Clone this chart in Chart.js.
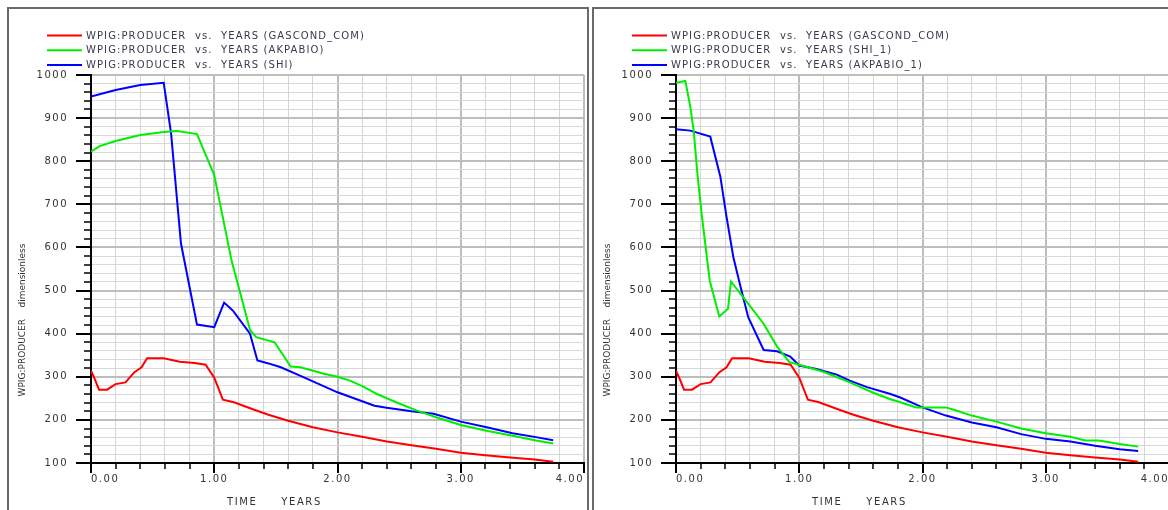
<!DOCTYPE html>
<html>
<head>
<meta charset="utf-8">
<script src="https://cdn.jsdelivr.net/npm/chart.js@4.4.0/dist/chart.umd.min.js"></script>
<style>
html, body { margin: 0; padding: 0; background: #fff; overflow: hidden; width: 1168px; height: 510px; }
.panel { position: absolute; top: 7px; height: 520px; border: 2px solid #6a6a6a; overflow: hidden; background: #fff; }
#panel-left { left: 7px; width: 578px; }
#panel-right { left: 592px; width: 600px; }
canvas { position: absolute; left: 0; top: 0; }
</style>
</head>
<body>
<div class="panel" id="panel-left"><canvas id="chartLeft" width="578" height="501"></canvas></div>
<div class="panel" id="panel-right"><canvas id="chartRight" width="578" height="501"></canvas></div>
<script>

// GASCOND_COM (same run in both plots)
var gascondTime   = [0, 0.03, 0.065, 0.13, 0.2, 0.28, 0.35, 0.41, 0.455, 0.59, 0.72, 0.84, 0.93, 1.0, 1.07, 1.16, 1.33, 1.44, 1.6, 1.8, 2.0, 2.2, 2.4, 2.6, 2.8, 3.0, 3.2, 3.4, 3.6, 3.75];
var gascondValues = [314, 295, 270, 270, 283, 287, 310, 322, 343, 343, 335, 332, 328, 298, 247, 241, 223, 212, 198, 183, 171, 161, 150, 141, 133, 124, 118, 113, 108, 103];

// left plot
var akpabioTime   = [0, 0.07, 0.2, 0.4, 0.59, 0.7, 0.86, 1.0, 1.14, 1.29, 1.34, 1.49, 1.62, 1.7, 1.89, 2.0, 2.1, 2.21, 2.32, 2.5, 2.64, 2.8, 3.0, 3.21, 3.42, 3.61, 3.75];
var akpabioValues = [822, 835, 847, 861, 868, 870, 863, 768, 570, 409, 392, 380, 324, 322, 307, 300, 291, 277, 260, 238, 222, 206, 188, 175, 163, 152, 145];

var shiTime   = [0, 0.2, 0.4, 0.59, 0.65, 0.73, 0.86, 1.0, 1.08, 1.15, 1.29, 1.35, 1.44, 1.54, 1.7, 2.0, 2.3, 2.4, 2.6, 2.78, 3.0, 3.21, 3.42, 3.61, 3.75];
var shiValues = [950, 965, 977, 982, 864, 609, 421, 415, 472, 454, 400, 338, 331, 322, 302, 264, 233, 228, 220, 214, 196, 183, 169, 160, 153];

// right plot
var shi1Time   = [0, 0.076, 0.116, 0.143, 0.176, 0.211, 0.273, 0.351, 0.422, 0.446, 0.549, 0.711, 0.82, 0.92, 1.0, 1.2, 1.41, 1.6, 1.74, 1.82, 1.95, 2.19, 2.26, 2.4, 2.6, 2.8, 3.0, 3.2, 3.32, 3.43, 3.6, 3.75];
var shi1Values = [982, 986, 926, 872, 764, 671, 524, 440, 458, 521, 483, 423, 370, 334, 328, 311, 287, 263, 248, 241, 229, 229, 223, 210, 196, 180, 169, 161, 152, 152, 144, 138];

var akpabio1Time   = [0, 0.116, 0.278, 0.36, 0.41, 0.465, 0.524, 0.586, 0.711, 0.82, 0.927, 1.0, 1.14, 1.305, 1.41, 1.55, 1.74, 1.82, 2.0, 2.19, 2.4, 2.6, 2.8, 3.0, 3.2, 3.4, 3.6, 3.75];
var akpabio1Values = [874, 871, 857, 764, 671, 578, 508, 438, 362, 359, 347, 326, 318, 305, 291, 276, 260, 252, 229, 210, 194, 183, 167, 156, 150, 140, 132, 128];

var yTicks = { min: 100, max: 1000, step: 20, major: 100 };
var xTicks = { min: 0, max: 4, step: 0.2 };

var RED = '#ff0000', GREEN = '#00ee00', BLUE = '#0000ff';
var FONT = '"DejaVu Sans", Verdana, sans-serif';

function toPoints(times, values) {
    var pts = [];
    for (var i = 0; i < times.length; i++) {
        pts.push({ x: times[i], y: values[i] });
    }
    return pts;
}

function isMajorX(v) { return Math.abs(v - Math.round(v)) < 1e-6; }
function isMajorY(v) { return Math.abs(v % yTicks.major) < 1e-6; }

var decorPlugin = {
    id: 'decor',
    beforeDraw: function (chart) {
        chart.ctx.letterSpacing = '1.5px';
    },
    afterDraw: function (chart) {
        var ctx = chart.ctx;
        var xs = chart.scales.x, ys = chart.scales.y;
        var area = chart.chartArea;
        ctx.save();
        ctx.strokeStyle = '#000';

        // tick marks, long for the labelled ones
        ys.ticks.forEach(function (t) {
            var major = isMajorY(t.value);
            var py = Math.round(ys.getPixelForValue(t.value));
            ctx.lineWidth = major ? 2 : 1.5;
            ctx.beginPath();
            ctx.moveTo(area.left - (major ? 15 : 7), py);
            ctx.lineTo(area.left, py);
            ctx.stroke();
        });
        xs.ticks.forEach(function (t) {
            var major = isMajorX(t.value);
            var px = Math.round(xs.getPixelForValue(t.value));
            ctx.lineWidth = major ? 2 : 1.5;
            ctx.beginPath();
            ctx.moveTo(px, area.bottom);
            ctx.lineTo(px, area.bottom + (major ? 10 : 6));
            ctx.stroke();
        });

        // axis titles
        ctx.fillStyle = '#333';
        ctx.font = '10px ' + FONT;
        ctx.letterSpacing = '1.6px';
        ctx.textAlign = 'left';
        ctx.textBaseline = 'middle';
        ctx.fillText('TIME     YEARS', area.left + 136, 493);

        ctx.save();
        ctx.translate(14, area.top + 245);
        ctx.rotate(-Math.PI / 2);
        ctx.font = '9px ' + FONT;
        ctx.letterSpacing = '0px';
        ctx.textAlign = 'center';
        ctx.fillText('WPIG:PRODUCER    dimensionless', 0, 0);
        ctx.restore();

        // legend
        ctx.font = '10px ' + FONT;
        ctx.letterSpacing = '1.1px';
        ctx.textAlign = 'left';
        ctx.fillStyle = '#3a3a4e';
        chart.data.datasets.forEach(function (ds, i) {
            var y = 26.5 + i * 14.7;
            ctx.strokeStyle = ds.borderColor;
            ctx.lineWidth = 2;
            ctx.beginPath();
            ctx.moveTo(area.left - 44, y);
            ctx.lineTo(area.left - 9, y);
            ctx.stroke();
            ctx.fillText(ds.label, area.left - 5, y + 0.5);
        });
        ctx.restore();
    }
};

function makeChart(canvasId, series) {
    var datasets = series.map(function (s) {
        return {
            label: s.label,
            data: toPoints(s.time, s.values),
            borderColor: s.color,
            backgroundColor: s.color,
            borderWidth: 2,
            pointRadius: 0,
            tension: 0,
            fill: false
        };
    });

    var ctx = document.getElementById(canvasId).getContext('2d');
    return new Chart(ctx, {
        type: 'line',
        data: { datasets: datasets },
        options: {
            responsive: false,
            animation: false,
            parsing: false,
            layout: { padding: { top: 66, right: 3, left: 0, bottom: 0 } },
            plugins: { legend: { display: false }, tooltip: { enabled: false } },
            scales: {
                x: {
                    type: 'linear',
                    min: xTicks.min,
                    max: xTicks.max,
                    afterFit: function (scale) {
                        scale.height = 47;
                        scale.paddingLeft = 0;
                        scale.paddingRight = 0;
                    },
                    border: { color: '#000', width: 2 },
                    grid: {
                        drawTicks: false,
                        color: function (c) { return isMajorX(c.tick.value) ? '#bdbdbd' : '#d6d6d6'; },
                        lineWidth: function (c) { return isMajorX(c.tick.value) ? 2 : 1; }
                    },
                    ticks: {
                        stepSize: xTicks.step,
                        autoSkip: false,
                        maxRotation: 0,
                        align: 'inner',
                        padding: 10,
                        color: '#333',
                        font: { family: FONT, size: 10 },
                        callback: function (v) { return isMajorX(v) ? v.toFixed(2) : ''; }
                    }
                },
                y: {
                    type: 'linear',
                    min: yTicks.min,
                    max: yTicks.max,
                    afterFit: function (scale) {
                        scale.width = 82;
                        scale.paddingTop = 0;
                        scale.paddingBottom = 0;
                    },
                    border: { color: '#000', width: 2 },
                    grid: {
                        drawTicks: false,
                        color: function (c) { return isMajorY(c.tick.value) ? '#bdbdbd' : '#d9d9d9'; },
                        lineWidth: function (c) { return isMajorY(c.tick.value) ? 2 : 1; }
                    },
                    ticks: {
                        stepSize: yTicks.step,
                        autoSkip: false,
                        padding: 23,
                        color: '#333',
                        font: { family: FONT, size: 10 },
                        callback: function (v) { return isMajorY(v) ? String(v) : ''; }
                    }
                }
            }
        },
        plugins: [decorPlugin]
    });
}

makeChart('chartLeft', [
    { label: 'WPIG:PRODUCER  vs.  YEARS (GASCOND_COM)', time: gascondTime, values: gascondValues, color: RED },
    { label: 'WPIG:PRODUCER  vs.  YEARS (AKPABIO)', time: akpabioTime, values: akpabioValues, color: GREEN },
    { label: 'WPIG:PRODUCER  vs.  YEARS (SHI)', time: shiTime, values: shiValues, color: BLUE }
]);

makeChart('chartRight', [
    { label: 'WPIG:PRODUCER  vs.  YEARS (GASCOND_COM)', time: gascondTime, values: gascondValues, color: RED },
    { label: 'WPIG:PRODUCER  vs.  YEARS (SHI_1)', time: shi1Time, values: shi1Values, color: GREEN },
    { label: 'WPIG:PRODUCER  vs.  YEARS (AKPABIO_1)', time: akpabio1Time, values: akpabio1Values, color: BLUE }
]);
</script>
</body>
</html>
